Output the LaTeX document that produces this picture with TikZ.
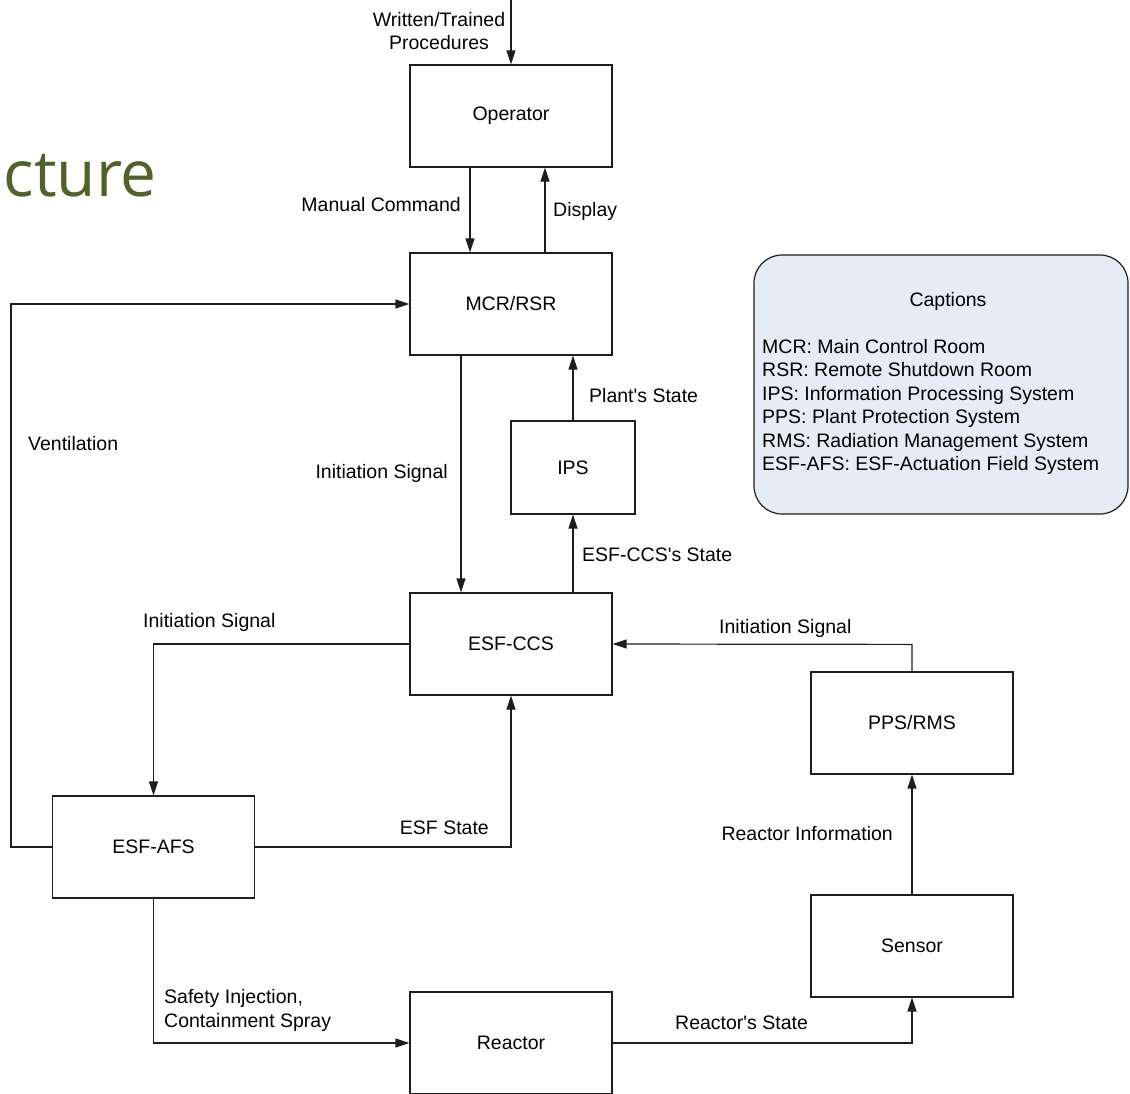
\documentclass[tikz,border=0pt]{standalone}
\usepackage{fontspec}
\setmainfont{Liberation Sans}[Ligatures=TeXOff]
\newfontfamily\titlefont{Open Sans}
\usepackage{xcolor}
\usetikzlibrary{positioning,arrows.meta}
\definecolor{titlecolor}{RGB}{79, 98, 40}
\definecolor{captioncolor}{RGB}{230, 236, 246}
\definecolor{linecolor}{RGB}{30, 30, 30}
\tikzset{
    block/.style={rectangle, draw=linecolor, line width=1.2pt, fill=white, minimum width=202pt, minimum height=102pt, inner sep=0pt},
    small block/.style={block, minimum width=124pt, minimum height=93pt},
    caption box/.style={draw=linecolor, line width=1.2pt, fill=captioncolor, rounded corners=28pt},
    flow/.style={-{Triangle[length=14pt, width=9pt]}, line width=1.2pt, linecolor},
    label text/.style={inner sep=0pt, font=\fontsize{19.5}{23.5}\selectfont}
}
\begin{document}
\begin{tikzpicture}[x=1pt, y=-1pt, every node/.style={font=\fontsize{19.5}{23.5}\selectfont}]
    \useasboundingbox (0,0) rectangle (1130,1093);
    \clip (0,0) rectangle (1130,1093);

    % Slide title remnant
    \node[anchor=base east, inner sep=0pt, text=titlecolor, font=\titlefont\fontsize{64}{70}\selectfont] (title) at (157,196) {ucture};

    % Blocks
    \node[block] (opr) at (511,116) {Operator};
    \node[block] (mcr) at (511,304) {MCR/RSR};
    \node[small block] (ips) at (573,467.5) {IPS};
    \node[block] (ccs) at (511,644) {ESF-CCS};
    \node[block] (pps) at (912,723) {PPS/RMS};
    \node[block] (afs) at (153.5,847) {ESF-AFS};
    \node[block] (sensor) at (912,946) {Sensor};
    \node[block] (reactor) at (511,1043) {Reactor};

    % Captions
    \draw[caption box] (754,255) rectangle (1128,514);
    \node[label text] (capt) at (948,301) {Captions};
    \node[label text, anchor=north west, align=left] (captlist) at (762,339) {MCR: Main Control Room\\RSR: Remote Shutdown Room\\IPS: Information Processing System\\PPS: Plant Protection System\\RMS: Radiation Management System\\ESF-AFS: ESF-Actuation Field System};

    % Helper points
    \coordinate (proctop) at (511,0);
    \coordinate (ventx) at (11,0);

    % Connections
    \draw[flow] (proctop) -- (opr.north);
    \draw[flow] ([xshift=-41pt]opr.south) -- ([xshift=-41pt]mcr.north);
    \draw[flow] ([xshift=34pt]mcr.north) -- ([xshift=34pt]opr.south);
    \draw[flow] (afs.west) -- (afs.west -| ventx) -- (mcr.west -| ventx) -- (mcr.west);
    \draw[flow] ([xshift=-50pt]mcr.south) -- ([xshift=-50pt]ccs.north);
    \draw[flow] (ips.north) -- (ips.north |- mcr.south);
    \draw[flow] (ips.south |- ccs.north) -- (ips.south);
    \draw[flow] (ccs.west) -- (ccs.west -| afs.north) -- (afs.north);
    \draw[flow] (afs.east) -- (afs.east -| ccs.south) -- (ccs.south);
    \draw[flow] (pps.north) -- ([yshift=27pt]pps.north) -- (ccs.east);
    \draw[flow] (sensor.north) -- (pps.south);
    \draw[flow] (afs.south) -- (afs.south |- reactor.west) -- (reactor.west);
    \draw[flow] (reactor.east) -- (reactor.east -| sensor.south) -- (sensor.south);

    % Connection labels
    \node[label text, align=center] (proclbl) at (439,31) {Written/Trained\\Procedures};
    \node[label text, anchor=east] (cmdlbl) at (461,205) {Manual Command};
    \node[label text, anchor=west] (displbl) at (553,211) {Display};
    \node[label text, anchor=west] (ventlbl) at (28,444) {Ventilation};
    \node[label text, anchor=east] (initlbl) at (448,473) {Initiation Signal};
    \node[label text, anchor=west] (plantlbl) at (589,396) {Plant's State};
    \node[label text, anchor=west] (ccslbl) at (582,555) {ESF-CCS's State};
    \node[label text, anchor=west] (initafslbl) at (143,622) {Initiation Signal};
    \node[label text, anchor=east] (esflbl) at (489,828) {ESF State};
    \node[label text, anchor=west] (initppslbl) at (719,628) {Initiation Signal};
    \node[label text, anchor=east] (infolbl) at (893,834) {Reactor Information};
    \node[label text, anchor=west, align=left] (safetylbl) at (164,1010.5) {Safety Injection,\\Containment Spray};
    \node[label text, anchor=west] (statelbl) at (675,1023) {Reactor's State};
\end{tikzpicture}
\end{document}
